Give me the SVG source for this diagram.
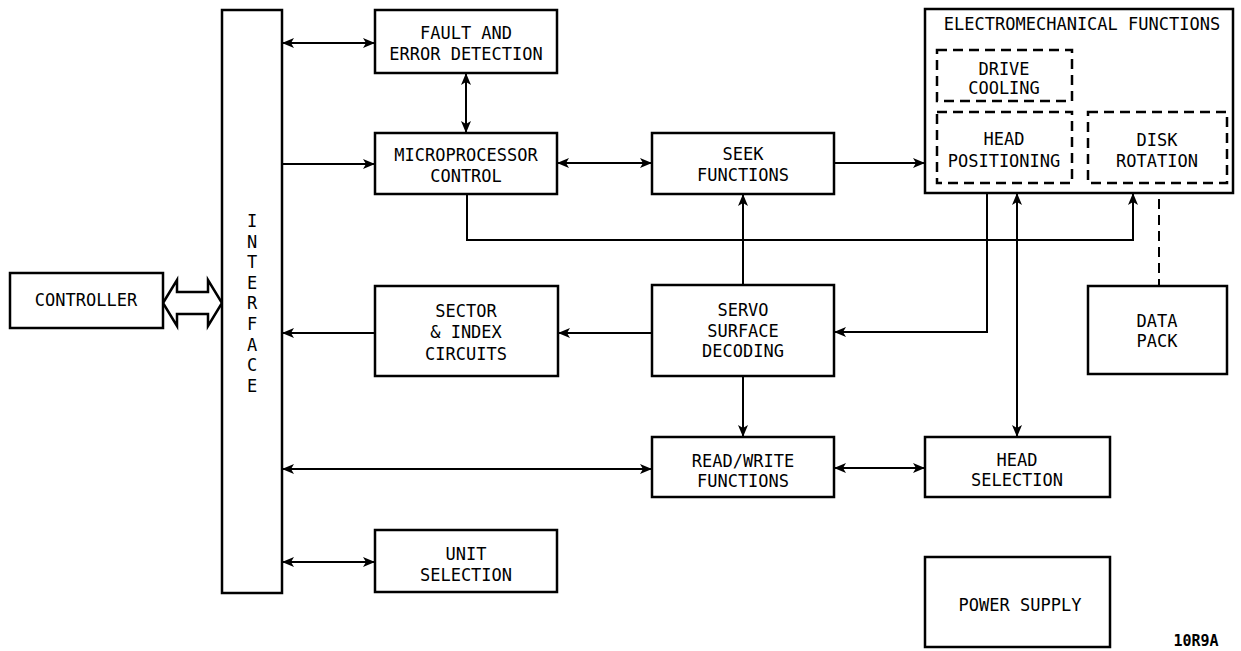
<svg xmlns="http://www.w3.org/2000/svg" width="1241" height="651" viewBox="0 0 1241 651">
<style>
.box{fill:#fff;stroke:#000;stroke-width:2.5}
.dbox{fill:none;stroke:#000;stroke-width:2.5;stroke-dasharray:10 6}
.c{fill:none;stroke:#000;stroke-width:2}
.dl{fill:none;stroke:#000;stroke-width:2;stroke-dasharray:10 6}
text{font-family:"DejaVu Sans Mono","Liberation Mono",monospace;font-size:17px;fill:#000;text-anchor:middle}
.id{font-weight:bold;font-size:15px}
</style>
<defs>
<marker id="ah" viewBox="0 0 12 10" refX="12" refY="5" markerWidth="12" markerHeight="10" markerUnits="userSpaceOnUse" orient="auto-start-reverse">
<path d="M0,0 L12,5 L0,10 L3,5 z" fill="#000"/>
</marker>
</defs>
<rect width="1241" height="651" fill="#fff"/>
<g id="connectors">
<path class="c" d="M282,43 H375" marker-start="url(#ah)" marker-end="url(#ah)"/>
<path class="c" d="M282,164 H375" marker-end="url(#ah)"/>
<path class="c" d="M466,73 V133" marker-start="url(#ah)" marker-end="url(#ah)"/>
<path class="c" d="M557,163 H652" marker-start="url(#ah)" marker-end="url(#ah)"/>
<path class="c" d="M834,163 H925" marker-end="url(#ah)"/>
<path class="c" d="M743,285 V194" marker-end="url(#ah)"/>
<path class="c" d="M467,194 V240 H1133 V193" marker-end="url(#ah)"/>
<path class="c" d="M652,333 H558" marker-end="url(#ah)"/>
<path class="c" d="M375,333 H282" marker-end="url(#ah)"/>
<path class="c" d="M987,193 V332 H834" marker-end="url(#ah)"/>
<path class="c" d="M743,376 V437" marker-end="url(#ah)"/>
<path class="c" d="M282,469 H652" marker-start="url(#ah)" marker-end="url(#ah)"/>
<path class="c" d="M834,468 H925" marker-start="url(#ah)" marker-end="url(#ah)"/>
<path class="c" d="M1017,193 V437" marker-start="url(#ah)" marker-end="url(#ah)"/>
<path class="c" d="M282,562 H375" marker-start="url(#ah)" marker-end="url(#ah)"/>
<path class="dl" d="M1159,183 V286"/>
<polygon class="box" points="163,303 177,280 177,292 208,292 208,280 222,303 208,326 208,314 177,314 177,326"/>
</g>
<g id="interface">
<rect class="box" x="222" y="10" width="60" height="583"/>
<text x="252" y="227">I</text>
<text x="252" y="248">N</text>
<text x="252" y="268">T</text>
<text x="252" y="289">E</text>
<text x="252" y="309">R</text>
<text x="252" y="330">F</text>
<text x="252" y="351">A</text>
<text x="252" y="371">C</text>
<text x="252" y="392">E</text>
</g>
<g id="controller">
<rect class="box" x="10" y="273" width="153" height="55"/>
<text x="86" y="306">CONTROLLER</text>
</g>
<g id="fault">
<rect class="box" x="375" y="10" width="182" height="63"/>
<text x="466" y="39">FAULT AND</text>
<text x="466" y="60">ERROR DETECTION</text>
</g>
<g id="micro">
<rect class="box" x="375" y="133" width="182" height="61"/>
<text x="466" y="161">MICROPROCESSOR</text>
<text x="466" y="182">CONTROL</text>
</g>
<g id="seek">
<rect class="box" x="652" y="133" width="182" height="61"/>
<text x="743" y="160">SEEK</text>
<text x="743" y="181">FUNCTIONS</text>
</g>
<g id="electromech">
<rect class="box" x="925" y="9" width="308" height="184"/>
<text x="1082" y="30">ELECTROMECHANICAL FUNCTIONS</text>
</g>
<g id="drivecooling">
<rect class="dbox" x="937" y="50" width="135" height="51"/>
<text x="1004" y="75">DRIVE</text>
<text x="1004" y="94">COOLING</text>
</g>
<g id="headpos">
<rect class="dbox" x="937" y="112" width="135" height="71"/>
<text x="1004" y="145">HEAD</text>
<text x="1004" y="167">POSITIONING</text>
</g>
<g id="diskrot">
<rect class="dbox" x="1088" y="112" width="139" height="71"/>
<text x="1157" y="146">DISK</text>
<text x="1157" y="167">ROTATION</text>
</g>
<g id="sector">
<rect class="box" x="375" y="286" width="183" height="90"/>
<text x="466" y="317">SECTOR</text>
<text x="466" y="338">&amp; INDEX</text>
<text x="466" y="360">CIRCUITS</text>
</g>
<g id="servo">
<rect class="box" x="652" y="285" width="182" height="91"/>
<text x="743" y="316">SERVO</text>
<text x="743" y="337">SURFACE</text>
<text x="743" y="357">DECODING</text>
</g>
<g id="datapack">
<rect class="box" x="1088" y="286" width="139" height="88"/>
<text x="1157" y="327">DATA</text>
<text x="1157" y="347">PACK</text>
</g>
<g id="readwrite">
<rect class="box" x="652" y="437" width="182" height="60"/>
<text x="743" y="467">READ/WRITE</text>
<text x="743" y="487">FUNCTIONS</text>
</g>
<g id="headsel">
<rect class="box" x="925" y="437" width="185" height="60"/>
<text x="1017" y="466">HEAD</text>
<text x="1017" y="486">SELECTION</text>
</g>
<g id="unitsel">
<rect class="box" x="375" y="530" width="182" height="62"/>
<text x="466" y="560">UNIT</text>
<text x="466" y="581">SELECTION</text>
</g>
<g id="power">
<rect class="box" x="925" y="557" width="185" height="90"/>
<text x="1020" y="611">POWER SUPPLY</text>
</g>
<text class="id" x="1196" y="646">10R9A</text>
</svg>
